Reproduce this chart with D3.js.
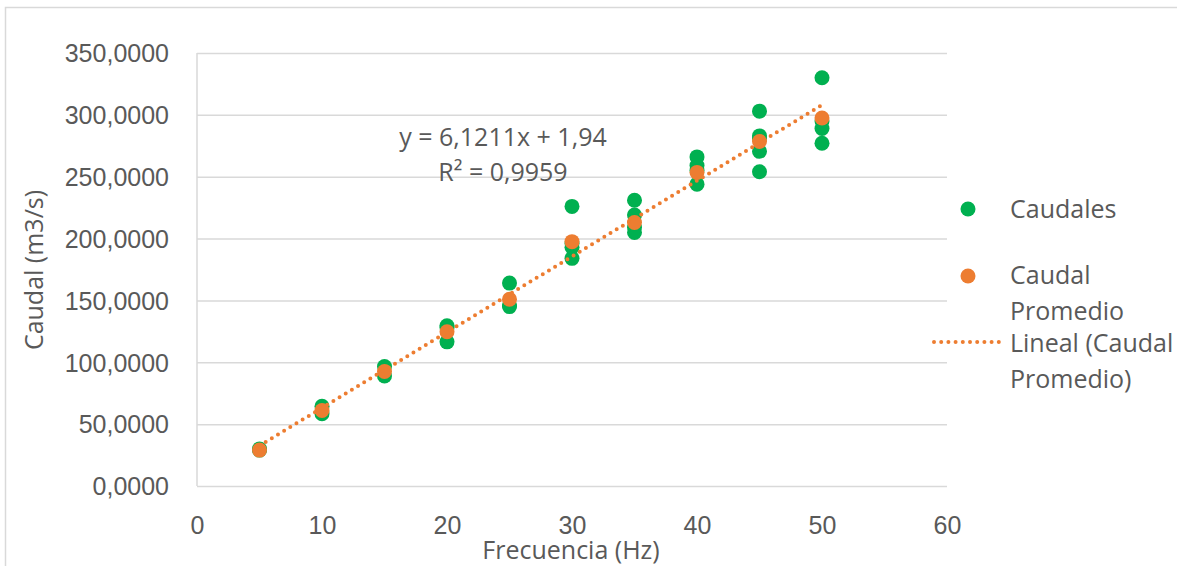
<!DOCTYPE html>
<html lang="es">
  <head>
    <meta charset="utf-8">
    <title>Caudal vs Frecuencia</title>
    <script src="https://d3js.org/d3.v7.min.js"></script>
    <style type="text/css">
      body {
        margin: 0;
        background-color: #FFFFFF;
        font-family: 'Open Sans', sans-serif;
      }
      .grid line {
        stroke: #d9d9d9;
        stroke-width: 1.5;
      }
      .grid path {
        stroke-width: 0;
      }
      .axis text, .label {
        fill: #595959;
        font-size: 25px;
      }
      .trend {
        fill: none;
        stroke: #ed7d31;
        stroke-width: 4;
        stroke-linecap: round;
        stroke-dasharray: 0 7.2;
      }
    </style>
  </head>
  <body>
  </body>
  <script type="text/javascript">
    // Datos
    var frecuencias = [5, 10, 15, 20, 25, 30, 35, 40, 45, 50];
    var caudales = [
      [29, 30],
      [64.5, 58.5],
      [96.5, 89],
      [129.5, 128, 116.5],
      [164, 146, 145],
      [226, 196, 193, 184],
      [231, 219, 209, 205],
      [266, 259, 255, 244],
      [303, 283, 281, 270.5, 254],
      [330, 295, 289, 277]
    ];
    var caudalPromedio = [29, 61, 92.5, 124.7, 151, 197.5, 213, 253.5, 278.5, 297.5];
    var xTicks = [0, 10, 20, 30, 40, 50, 60];
    var yTicks = [0, 50, 100, 150, 200, 250, 300, 350];
    var pendiente = 6.1211, intercepto = 1.94;
    var ecuacion = ["y = 6,1211x + 1,94", "R² = 0,9959"];

    var GREEN = "#00b050", ORANGE = "#ed7d31";

    var W = 1177, H = 566;
    var plot = {left: 197, right: 947, top: 53, bottom: 486};

    var es = d3.formatLocale({decimal: ",", thousands: ".", grouping: [3], currency: ["", "€"]});

    var xScale = d3.scaleLinear().domain([0, 60]).range([plot.left, plot.right]);
    var yScale = d3.scaleLinear().domain([0, 350]).range([plot.bottom, plot.top]);

    var svg = d3.select("body").append("svg")
        .attr("width", W)
        .attr("height", H);

    // marco del grafico
    svg.append("rect")
        .attr("x", 5.5).attr("y", 7.5)
        .attr("width", W + 10).attr("height", H + 10)
        .attr("fill", "none")
        .attr("stroke", "#d9d9d9")
        .attr("stroke-width", 1.5);

    // rejilla y eje Y
    var yAxis = svg.append("g")
        .attr("class", "grid axis")
        .attr("transform", "translate(" + plot.left + ",0)")
        .call(d3.axisLeft(yScale)
            .tickValues(yTicks)
            .tickSize(-(plot.right - plot.left))
            .tickPadding(28)
            .tickFormat(es.format(".4f")));
    yAxis.selectAll("text").attr("dy", "0.35em");
    yAxis.selectAll(".tick").filter(function(d) { return d === 0; })
        .select("line").attr("stroke", "#bfbfbf");

    // linea vertical del eje
    svg.append("line")
        .attr("x1", plot.left).attr("x2", plot.left)
        .attr("y1", plot.top).attr("y2", plot.bottom)
        .attr("stroke", "#d9d9d9")
        .attr("stroke-width", 1.5);

    // eje X
    var xAxis = svg.append("g")
        .attr("class", "axis")
        .attr("transform", "translate(0," + plot.bottom + ")")
        .call(d3.axisBottom(xScale)
            .tickValues(xTicks)
            .tickSize(0)
            .tickPadding(30));
    xAxis.select(".domain").remove();

    // titulos de ejes
    svg.append("text")
        .attr("class", "label")
        .attr("text-anchor", "middle")
        .attr("transform", "translate(43,270) rotate(-90)")
        .text("Caudal (m3/s)");

    svg.append("text")
        .attr("class", "label")
        .attr("text-anchor", "middle")
        .attr("x", 571).attr("y", 559)
        .text("Frecuencia (Hz)");

    // puntos Caudales
    var puntos = [];
    frecuencias.forEach(function(f, i) {
      caudales[i].forEach(function(c) { puntos.push({x: f, y: c}); });
    });

    svg.selectAll(".dot-caudal")
        .data(puntos)
      .enter().append("circle")
        .attr("class", "dot-caudal")
        .attr("cx", function(d) { return xScale(d.x); })
        .attr("cy", function(d) { return yScale(d.y); })
        .attr("r", 7.5)
        .attr("fill", GREEN);

    svg.selectAll(".dot-prom")
        .data(caudalPromedio)
      .enter().append("circle")
        .attr("class", "dot-prom")
        .attr("cx", function(d, i) { return xScale(frecuencias[i]); })
        .attr("cy", function(d) { return yScale(d); })
        .attr("r", 7.5)
        .attr("fill", ORANGE);

    // linea de tendencia
    var xMin = d3.min(frecuencias), xMax = d3.max(frecuencias);
    var line = d3.line()
        .x(function(d) { return xScale(d); })
        .y(function(d) { return yScale(pendiente * d + intercepto); });

    svg.append("path")
        .datum([xMin, xMax])
        .attr("class", "trend")
        .attr("d", line);

    // ecuacion
    svg.selectAll(".eq")
        .data(ecuacion)
      .enter().append("text")
        .attr("class", "label eq")
        .attr("text-anchor", "middle")
        .attr("x", 503)
        .attr("y", function(d, i) { return 146 + i * 35; })
        .text(function(d) { return d; });

    // leyenda
    var leg = svg.append("g");
    leg.append("circle").attr("cx", 968).attr("cy", 209).attr("r", 7.5).attr("fill", GREEN);
    leg.append("circle").attr("cx", 968).attr("cy", 276).attr("r", 7.5).attr("fill", ORANGE);
    leg.append("line")
        .attr("class", "trend")
        .attr("x1", 934).attr("x2", 1001)
        .attr("y1", 342).attr("y2", 342);

    var legTexts = [
      {t: "Caudales", y: 209},
      {t: "Caudal", y: 275},
      {t: "Promedio", y: 311},
      {t: "Lineal (Caudal", y: 343},
      {t: "Promedio)", y: 379}
    ];
    leg.selectAll("text")
        .data(legTexts)
      .enter().append("text")
        .attr("class", "label")
        .attr("x", 1010)
        .attr("y", function(d) { return d.y; })
        .attr("dy", "0.35em")
        .text(function(d) { return d.t; });
  </script>
</html>
